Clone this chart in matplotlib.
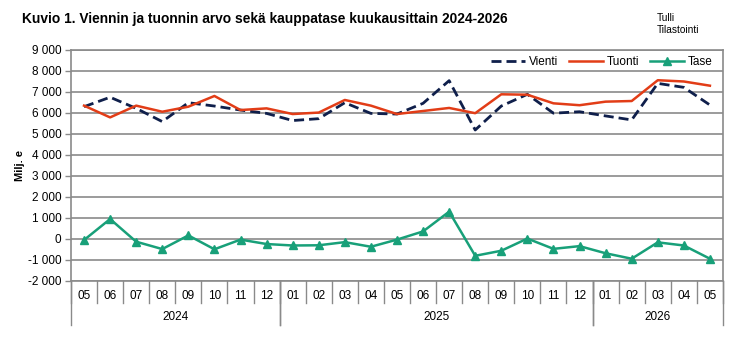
import matplotlib
matplotlib.use("Agg")
import matplotlib.pyplot as plt
import matplotlib.transforms as mtransforms

# Data (milj. e), 05/2024 - 05/2026
months = ["05", "06", "07", "08", "09", "10", "11", "12",
          "01", "02", "03", "04", "05", "06", "07", "08", "09", "10", "11", "12",
          "01", "02", "03", "04", "05"]
years = ["2024", "2025", "2026"]
year_spans = [(0, 7), (8, 19), (20, 24)]

vienti = [6300, 6750, 6220, 5590, 6490, 6330, 6140, 5980, 5640, 5730, 6490, 5980,
          5950, 6460, 7540, 5190, 6330, 6890, 5990, 6060, 5860, 5670, 7410, 7220, 6380]
tuonti = [6350, 5790, 6350, 6060, 6300, 6810, 6140, 6220, 5950, 6020, 6620, 6350,
          5950, 6095, 6240, 5990, 6890, 6870, 6460, 6370, 6540, 6570, 7560, 7500, 7300]
tase = [-50, 950, -130, -480, 170, -490, -30, -240, -310, -300, -150, -370,
        -30, 360, 1300, -800, -560, 20, -470, -340, -680, -940, -160, -310, -940]

yticks = list(range(-2000, 9001, 1000))

plt.rcParams["font.family"] = ["Liberation Sans", "DejaVu Sans"]

C_VIENTI = "#0f1f4b"
C_TUONTI = "#e23d17"
C_TASE = "#18a079"
C_GRID = "#8a8a8a"

fig = plt.figure(figsize=(7.56, 3.41), dpi=100)
ax = fig.add_axes([0.0939, 0.1760, 0.8624, 0.6774])

x = list(range(len(months)))
ax.plot(x, vienti, color=C_VIENTI, lw=2.0, ls=(0, (3.6, 1.8)), label="Vienti", zorder=3)
ax.plot(x, tuonti, color=C_TUONTI, lw=1.8, label="Tuonti", zorder=3)
ax.plot(x, tase, color=C_TASE, lw=1.8, marker="^", ms=6, label="Tase", zorder=3)

ax.set_xlim(-0.5, len(months) - 0.5)
ax.set_ylim(-2000, 9000)
ax.set_yticks(yticks)
ax.set_yticklabels([f"{v:,}".replace(",", " ") for v in yticks], fontsize=8.5)
ax.yaxis.grid(True, color=C_GRID, lw=1.2)
ax.set_axisbelow(True)
ax.tick_params(axis="y", length=4, width=1, color=C_GRID, pad=3)
ax.set_xticks([])
for s in ax.spines.values():
    s.set_color(C_GRID)
    s.set_linewidth(1.2)

ax.set_ylabel("Milj. e", fontsize=8, fontweight="bold", labelpad=2)

# Category axis with month and year rows
trans = mtransforms.blended_transform_factory(ax.transData, ax.transAxes)
for i, m in enumerate(months):
    ax.text(i, -0.065, m, transform=trans, ha="center", va="center", fontsize=8.5)
for b in range(len(months) + 1):
    ax.plot([b - 0.5, b - 0.5], [0, -0.095], transform=trans, color=C_GRID,
            lw=1, clip_on=False)
for (a, b), yr in zip(year_spans, years):
    ax.text((a + b) / 2, -0.158, yr, transform=trans, ha="center", va="center", fontsize=8.5)
    for e in (a - 0.5, b + 0.5):
        ax.plot([e, e], [0, -0.19], transform=trans, color=C_GRID, lw=1, clip_on=False)

ax.legend(loc="upper right", ncol=3, frameon=False, fontsize=8.5,
          handlelength=2.9, columnspacing=0.9, handletextpad=0.3,
          bbox_to_anchor=(1.0, 1.02))

fig.text(0.029, 0.945, "Kuvio 1. Viennin ja tuonnin arvo sekä kauppatase kuukausittain 2024-2026",
         fontweight="bold", fontsize=9.9, va="center")
fig.text(0.869, 0.947, "Tulli", fontsize=7.3, va="center")
fig.text(0.869, 0.911, "Tilastointi", fontsize=7.3, va="center")

fig.savefig("out.png", dpi=100)
